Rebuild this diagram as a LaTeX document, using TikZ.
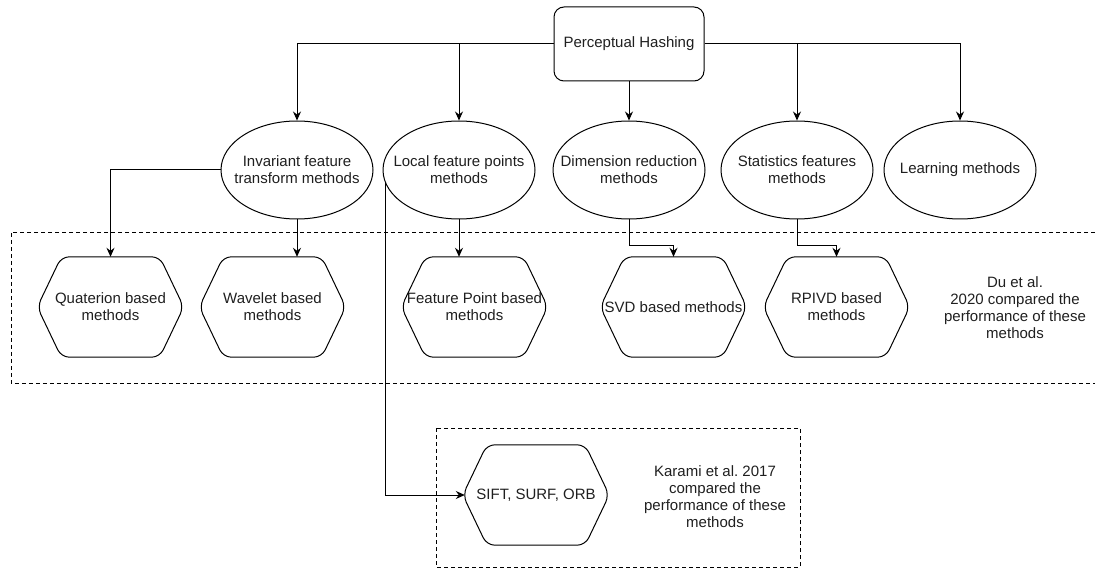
\documentclass[tikz,border=0pt]{standalone}
\usepackage{fontspec}
\setmainfont{Liberation Sans}
\usetikzlibrary{arrows.meta,shapes.geometric,calc}
\newcommand{\hexdraw}[1]{\draw[hexline] (#1.west) -- ([xshift=24pt]#1.north west) -- ([xshift=-24pt]#1.north east) -- (#1.east) -- ([xshift=-24pt]#1.south east) -- ([xshift=24pt]#1.south west) -- cycle;}
\frenchspacing
\begin{document}
\begin{tikzpicture}[x=1pt,y=-1pt,
  every node/.style={font=\fontsize{15}{17}\selectfont, text=black!88, align=center},
  line/.style={line width=1pt, draw=black},
  arr/.style={line, -{Stealth[length=9pt,width=8pt,inset=3pt]}},
  oval/.style={ellipse, draw, line width=1pt, minimum width=152pt, minimum height=98pt, inner xsep=-20pt, inner ysep=0pt},
  hexnode/.style={minimum width=146pt, minimum height=100pt, inner sep=0pt},
  hexline/.style={line width=1pt, rounded corners=8pt},
  dbox/.style={line width=0.9pt, dash pattern=on 4pt off 3pt},
  phbox/.style={draw, rounded corners=10pt, line width=1pt, minimum width=150pt, minimum height=74pt}
]
\useasboundingbox (0,0) rectangle (1095,572);

% dashed groups
\draw[dbox] (1095,232) -| (11,383) -- (1095,383);
\draw[dbox] (436,428) rectangle (800,567);

% root
\node[phbox] (ph) at (629,44) {Perceptual Hashing};

% categories
\node[oval] (e1) at (297,170) {Invariant feature\\transform methods};
\node[oval] (e2) at (459,170) {Local feature points\\methods};
\node[oval] (e3) at (629,170) {Dimension reduction\\methods};
\node[oval] (e4) at (797,170) {Statistics features\\methods};
\node[oval] (e5) at (960,170) {Learning methods};

% methods
\node[hexnode] (q) at (110.5,307) {Quaterion based\\methods};
\node[hexnode] (w) at (272.5,307) {Wavelet based\\methods};
\node[hexnode] (fp) at (474.5,307) {Feature Point based\\methods};
\node[hexnode] (svd) at (673.5,307) {SVD based methods};
\node[hexnode] (rp) at (836.5,307) {RPIVD based\\methods};
\node[hexnode] (sift) at (536,495) {SIFT, SURF, ORB};
\hexdraw{q}
\hexdraw{w}
\hexdraw{fp}
\hexdraw{svd}
\hexdraw{rp}
\hexdraw{sift}

% notes
\node (du) at (1015,307.5) {Du et al.\\2020 compared the\\performance of these\\methods};
\node (ka) at (715,496.5) {Karami et al. 2017\\compared the\\performance of these\\methods};

% connectors
\draw[arr] (ph.west) -| (e1.north);
\draw[arr] (ph.west) -| (e2.north);
\draw[arr] (ph.south) -- (e3.north);
\draw[arr] (ph.east) -| (e4.north);
\draw[arr] (ph.east) -| (e5.north);
\draw[arr] (e1.west) -| (q.north);
\draw[arr] (e1.south) -- (e1.south |- w.north);
\draw[arr] (e2.south) -- (e2.south |- fp.north);
\draw[arr] (e3.south) -- ++(0,26) -| (svd.north);
\draw[arr] (e4.south) -- ++(0,26) -| (rp.north);
\draw[arr] (e2.190) |- ([xshift=2pt]sift.west);
\end{tikzpicture}
\end{document}
